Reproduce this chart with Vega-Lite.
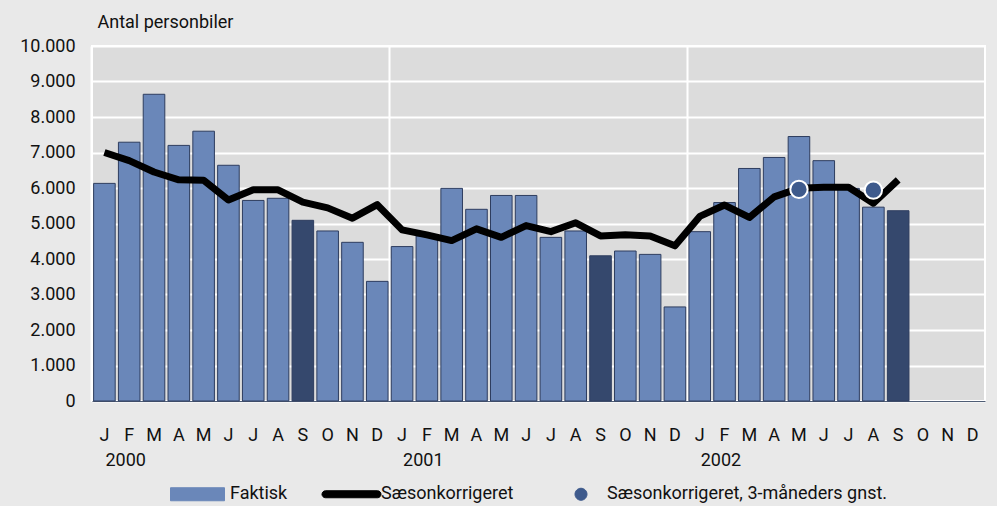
{
  "$schema": "https://vega.github.io/schema/vega-lite/v6.json",
  "width": 893,
  "height": 355,
  "autosize": {"type": "none"},
  "padding": {"left": 92, "top": 46, "right": 12, "bottom": 105},
  "background": "#e9e9e9",
  "config": {
    "font": "Roboto",
    "view": {"fill": "#dcdcdc", "stroke": "#ffffff", "strokeWidth": 2},
    "axis": {"labelFont": "Roboto", "labelColor": "#111111", "labelFontSize": 18, "ticks": false, "tickSize": 0},
    "legend": {
      "orient": "none",
      "legendX": 75,
      "legendY": 417.5,
      "direction": "horizontal",
      "columnPadding": 30,
      "symbolSize": 3600,
      "labelFontSize": 18,
      "labelFont": "Roboto",
      "labelColor": "#111111",
      "labelOffset": 2,
      "labelLimit": 500,
      "padding": 0
    }
  },
  "data": {
    "values": [
      {"month": "2000-01", "faktisk": 6130, "saeson": 7000, "gnst": null},
      {"month": "2000-02", "faktisk": 7290, "saeson": 6770, "gnst": null},
      {"month": "2000-03", "faktisk": 8640, "saeson": 6450, "gnst": null},
      {"month": "2000-04", "faktisk": 7200, "saeson": 6230, "gnst": null},
      {"month": "2000-05", "faktisk": 7600, "saeson": 6220, "gnst": null},
      {"month": "2000-06", "faktisk": 6640, "saeson": 5660, "gnst": null},
      {"month": "2000-07", "faktisk": 5650, "saeson": 5950, "gnst": null},
      {"month": "2000-08", "faktisk": 5710, "saeson": 5950, "gnst": null},
      {"month": "2000-09", "faktisk": 5090, "saeson": 5600, "gnst": null},
      {"month": "2000-10", "faktisk": 4790, "saeson": 5440, "gnst": null},
      {"month": "2000-11", "faktisk": 4470, "saeson": 5150, "gnst": null},
      {"month": "2000-12", "faktisk": 3370, "saeson": 5530, "gnst": null},
      {"month": "2001-01", "faktisk": 4350, "saeson": 4820, "gnst": null},
      {"month": "2001-02", "faktisk": 4650, "saeson": 4680, "gnst": null},
      {"month": "2001-03", "faktisk": 5990, "saeson": 4520, "gnst": null},
      {"month": "2001-04", "faktisk": 5400, "saeson": 4850, "gnst": null},
      {"month": "2001-05", "faktisk": 5790, "saeson": 4610, "gnst": null},
      {"month": "2001-06", "faktisk": 5790, "saeson": 4940, "gnst": null},
      {"month": "2001-07", "faktisk": 4610, "saeson": 4770, "gnst": null},
      {"month": "2001-08", "faktisk": 4790, "saeson": 5020, "gnst": null},
      {"month": "2001-09", "faktisk": 4090, "saeson": 4650, "gnst": null},
      {"month": "2001-10", "faktisk": 4225, "saeson": 4680, "gnst": null},
      {"month": "2001-11", "faktisk": 4130, "saeson": 4650, "gnst": null},
      {"month": "2001-12", "faktisk": 2650, "saeson": 4370, "gnst": null},
      {"month": "2002-01", "faktisk": 4770, "saeson": 5200, "gnst": null},
      {"month": "2002-02", "faktisk": 5590, "saeson": 5520, "gnst": null},
      {"month": "2002-03", "faktisk": 6550, "saeson": 5170, "gnst": null},
      {"month": "2002-04", "faktisk": 6860, "saeson": 5750, "gnst": null},
      {"month": "2002-05", "faktisk": 7450, "saeson": 5990, "gnst": 5960},
      {"month": "2002-06", "faktisk": 6770, "saeson": 6020, "gnst": null},
      {"month": "2002-07", "faktisk": 5990, "saeson": 6020, "gnst": null},
      {"month": "2002-08", "faktisk": 5460, "saeson": 5570, "gnst": 5940},
      {"month": "2002-09", "faktisk": 5360, "saeson": 6230, "gnst": null},
      {"month": "2002-10", "faktisk": null, "saeson": null, "gnst": null},
      {"month": "2002-11", "faktisk": null, "saeson": null, "gnst": null},
      {"month": "2002-12", "faktisk": null, "saeson": null, "gnst": null}
    ]
  },
  "resolve": {"axis": {"x": "independent"}},
  "layer": [
    {
      "mark": {"type": "bar", "stroke": "#2e3d5f", "strokeWidth": 1},
      "encoding": {
        "x": {
          "field": "month",
          "type": "ordinal",
          "scale": {
            "domain": ["2000-01","2000-02","2000-03","2000-04","2000-05","2000-06","2000-07","2000-08","2000-09","2000-10","2000-11","2000-12","2001-01","2001-02","2001-03","2001-04","2001-05","2001-06","2001-07","2001-08","2001-09","2001-10","2001-11","2001-12","2002-01","2002-02","2002-03","2002-04","2002-05","2002-06","2002-07","2002-08","2002-09","2002-10","2002-11","2002-12"],
            "paddingInner": 0.13,
            "paddingOuter": 0.065
          },
          "axis": {
            "orient": "bottom",
            "title": null,
            "labelExpr": "['J','F','M','A','M','J','J','A','S','O','N','D'][toNumber(slice(datum.value, 5)) - 1]",
            "labelAngle": 0,
            "labelPadding": 34,
            "labelBaseline": "middle",
            "domain": true,
            "domainColor": "#4f5d75",
            "domainWidth": 1,
            "grid": false,
            "ticks": false
          }
        },
        "y": {
          "field": "faktisk",
          "type": "quantitative",
          "scale": {"domain": [0, 10000], "nice": false},
          "axis": {
            "title": "Antal personbiler",
            "titleAngle": 0,
            "titleX": 5,
            "titleY": -24,
            "titleAlign": "left",
            "titleBaseline": "middle",
            "titleFontSize": 18,
            "titleFontWeight": "normal",
            "titleFont": "Roboto",
            "titleColor": "#111111",
            "values": [0, 1000, 2000, 3000, 4000, 5000, 6000, 7000, 8000, 9000, 10000],
            "labelOverlap": false,
            "labelExpr": "replace(format(datum.value, ','), ',', '.')",
            "labelPadding": 17,
            "domain": false,
            "ticks": false,
            "grid": true,
            "gridColor": "#ffffff",
            "gridWidth": 2
          }
        },
        "color": {
          "datum": "Faktisk",
          "type": "nominal",
          "scale": {
            "domain": ["Faktisk", "Sæsonkorrigeret", "Sæsonkorrigeret, 3-måneders gnst."],
            "range": ["#6a87b9", "#000000", "#3e5a8c"]
          },
          "legend": {
            "title": null,
            "encode": {
              "symbols": {
                "update": {
                  "shape": {"signal": "datum.value === 'Faktisk' ? 'M-0.9,-0.2167H0.9V0.2167H-0.9Z' : datum.value === 'Sæsonkorrigeret' ? 'M-0.7667,-0.1167H0.9667A0.1167,0.1167,0,0,1,0.9667,0.1167H-0.7667A0.1167,0.1167,0,0,1,-0.7667,-0.1167Z' : 'M0.0167,0A0.2,0.2,0,1,1,0.4167,0A0.2,0.2,0,1,1,0.0167,0Z'"},
                  "size": {"value": 3600},
                  "fill": {"signal": "datum.value === 'Faktisk' ? '#6a87b9' : datum.value === 'Sæsonkorrigeret' ? '#000000' : '#3e5a8c'"},
                  "stroke": {"signal": "datum.value === 'Faktisk' ? '#2e3d5f' : datum.value === 'Sæsonkorrigeret' ? 'transparent' : '#ffffff'"},
                  "strokeWidth": {"value": 1},
                  "opacity": {"value": 1}
                }
              }
            }
          }
        },
        "fill": {
          "condition": {"test": "slice(datum.month, 5) === '09'", "value": "#35486d"},
          "value": "#6a87b9"
        }
      }
    },
    {
      "mark": {"type": "line", "strokeWidth": 7, "strokeJoin": "round"},
      "encoding": {
        "x": {
          "field": "month",
          "type": "ordinal",
          "axis": {
            "orient": "bottom",
            "title": null,
            "values": ["2000-01", "2001-01", "2002-01"],
            "labelExpr": "slice(datum.value, 0, 4)",
            "bandPosition": -0.075,
            "grid": true,
            "gridColor": "#ffffff",
            "gridWidth": 2,
            "domain": false,
            "ticks": false,
            "labelAlign": "left",
            "labelOffset": 1,
            "labelPadding": 59,
            "labelBaseline": "middle",
            "labelAngle": 0
          }
        },
        "y": {
          "field": "saeson",
          "type": "quantitative",
          "scale": {"domain": [0, 10000], "nice": false},
          "axis": {
            "title": "Antal personbiler",
            "titleAngle": 0,
            "titleX": 5,
            "titleY": -24,
            "titleAlign": "left",
            "titleBaseline": "middle",
            "titleFontSize": 18,
            "titleFontWeight": "normal",
            "titleFont": "Roboto",
            "titleColor": "#111111",
            "values": [0, 1000, 2000, 3000, 4000, 5000, 6000, 7000, 8000, 9000, 10000],
            "labelOverlap": false,
            "labelExpr": "replace(format(datum.value, ','), ',', '.')",
            "labelPadding": 17,
            "domain": false,
            "ticks": false,
            "grid": true,
            "gridColor": "#ffffff",
            "gridWidth": 2
          }
        },
        "color": {
          "datum": "Sæsonkorrigeret",
          "type": "nominal",
          "scale": {
            "domain": ["Faktisk", "Sæsonkorrigeret", "Sæsonkorrigeret, 3-måneders gnst."],
            "range": ["#6a87b9", "#000000", "#3e5a8c"]
          },
          "legend": {
            "title": null,
            "encode": {
              "symbols": {
                "update": {
                  "shape": {"signal": "datum.value === 'Faktisk' ? 'M-0.9,-0.2167H0.9V0.2167H-0.9Z' : datum.value === 'Sæsonkorrigeret' ? 'M-0.7667,-0.1167H0.9667A0.1167,0.1167,0,0,1,0.9667,0.1167H-0.7667A0.1167,0.1167,0,0,1,-0.7667,-0.1167Z' : 'M0.0167,0A0.2,0.2,0,1,1,0.4167,0A0.2,0.2,0,1,1,0.0167,0Z'"},
                  "size": {"value": 3600},
                  "fill": {"signal": "datum.value === 'Faktisk' ? '#6a87b9' : datum.value === 'Sæsonkorrigeret' ? '#000000' : '#3e5a8c'"},
                  "stroke": {"signal": "datum.value === 'Faktisk' ? '#2e3d5f' : datum.value === 'Sæsonkorrigeret' ? 'transparent' : '#ffffff'"},
                  "strokeWidth": {"value": 1},
                  "opacity": {"value": 1}
                }
              }
            }
          }
        }
      }
    },
    {
      "mark": {"type": "point", "filled": true, "size": 300, "stroke": "#ffffff", "strokeWidth": 2, "opacity": 1},
      "encoding": {
        "x": {"field": "month", "type": "ordinal", "axis": null},
        "y": {
          "field": "gnst",
          "type": "quantitative",
          "scale": {"domain": [0, 10000], "nice": false},
          "axis": {
            "title": "Antal personbiler",
            "titleAngle": 0,
            "titleX": 5,
            "titleY": -24,
            "titleAlign": "left",
            "titleBaseline": "middle",
            "titleFontSize": 18,
            "titleFontWeight": "normal",
            "titleFont": "Roboto",
            "titleColor": "#111111",
            "values": [0, 1000, 2000, 3000, 4000, 5000, 6000, 7000, 8000, 9000, 10000],
            "labelOverlap": false,
            "labelExpr": "replace(format(datum.value, ','), ',', '.')",
            "labelPadding": 17,
            "domain": false,
            "ticks": false,
            "grid": true,
            "gridColor": "#ffffff",
            "gridWidth": 2
          }
        },
        "color": {
          "datum": "Sæsonkorrigeret, 3-måneders gnst.",
          "type": "nominal",
          "scale": {
            "domain": ["Faktisk", "Sæsonkorrigeret", "Sæsonkorrigeret, 3-måneders gnst."],
            "range": ["#6a87b9", "#000000", "#3e5a8c"]
          },
          "legend": {
            "title": null,
            "encode": {
              "symbols": {
                "update": {
                  "shape": {"signal": "datum.value === 'Faktisk' ? 'M-0.9,-0.2167H0.9V0.2167H-0.9Z' : datum.value === 'Sæsonkorrigeret' ? 'M-0.7667,-0.1167H0.9667A0.1167,0.1167,0,0,1,0.9667,0.1167H-0.7667A0.1167,0.1167,0,0,1,-0.7667,-0.1167Z' : 'M0.0167,0A0.2,0.2,0,1,1,0.4167,0A0.2,0.2,0,1,1,0.0167,0Z'"},
                  "size": {"value": 3600},
                  "fill": {"signal": "datum.value === 'Faktisk' ? '#6a87b9' : datum.value === 'Sæsonkorrigeret' ? '#000000' : '#3e5a8c'"},
                  "stroke": {"signal": "datum.value === 'Faktisk' ? '#2e3d5f' : datum.value === 'Sæsonkorrigeret' ? 'transparent' : '#ffffff'"},
                  "strokeWidth": {"value": 1},
                  "opacity": {"value": 1}
                }
              }
            }
          }
        }
      }
    }
  ]
}
